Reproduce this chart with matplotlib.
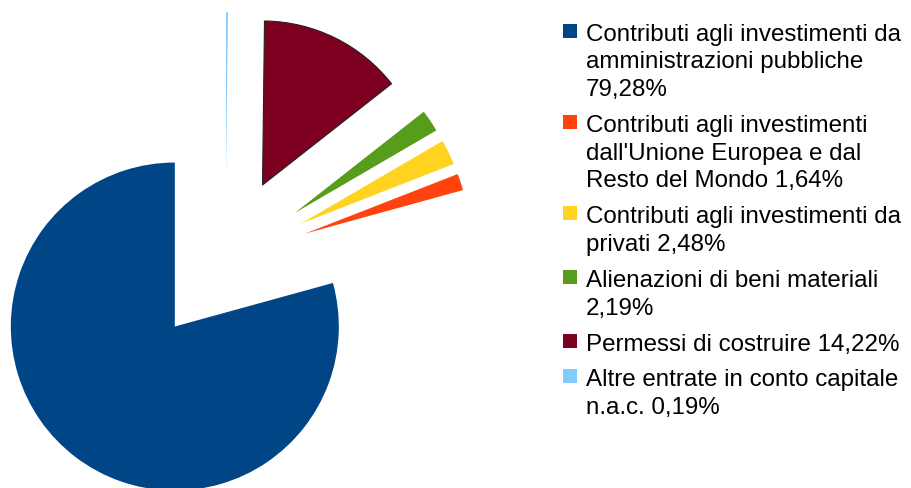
import matplotlib
matplotlib.use("Agg")
import matplotlib.pyplot as plt
from matplotlib.patches import Rectangle

# dati
valori = [79.28, 1.64, 2.48, 2.19, 14.22, 0.19]
colori = ['#004586', '#ff420e', '#ffd320', '#579d1c', '#7e0021', '#83caff']
etichette = [
    "Contributi agli investimenti da\namministrazioni pubbliche\n79,28%",
    "Contributi agli investimenti\ndall'Unione Europea e dal\nResto del Mondo 1,64%",
    "Contributi agli investimenti da\nprivati 2,48%",
    "Alienazioni di beni materiali\n2,19%",
    "Permessi di costruire 14,22%",
    "Altre entrate in conto capitale\nn.a.c. 0,19%",
]

plt.rcParams['font.family'] = ['Liberation Sans', 'DejaVu Sans']

W, H = 911, 489
fig = plt.figure(figsize=(W / 100, H / 100), dpi=100)
ax = fig.add_axes([0, 0, 1, 1])

# pie esploso, raggio 164 px, centro (225.5, 261) px
r_px = 164.0
cx, cy = 225.5, 261.0
wedges, _ = ax.pie(valori, colors=colori, explode=[0.51] * len(valori),
                   startangle=90, counterclock=True, radius=1,
                   wedgeprops=dict(linewidth=0))
wedges[4].set_edgecolor('#222222')
wedges[4].set_linewidth(0.8)
ax.set_xlim(-cx / r_px, (W - cx) / r_px)
ax.set_ylim((cy - H) / r_px, cy / r_px)
ax.set_aspect('equal')
ax.axis('off')

# legenda manuale
x_box, x_txt = 563, 586
riga, spazio = 27.8, 8.0
y_base = 40.5
n = 0
for i, (lab, col) in enumerate(zip(etichette, colori)):
    righe = lab.split('\n')
    y0 = y_base + riga * n + spazio * i
    fig.patches.append(Rectangle((x_box / W, 1 - (y0 - 2) / H), 14 / W, 14 / H,
                                 transform=fig.transFigure, facecolor=col,
                                 edgecolor='none'))
    for k, t in enumerate(righe):
        fig.text(x_txt / W, 1 - (y0 + riga * k) / H, t, fontsize=17.4,
                 color='#000000', va='baseline', ha='left')
    n += len(righe)

fig.savefig('out.png', dpi=100)
